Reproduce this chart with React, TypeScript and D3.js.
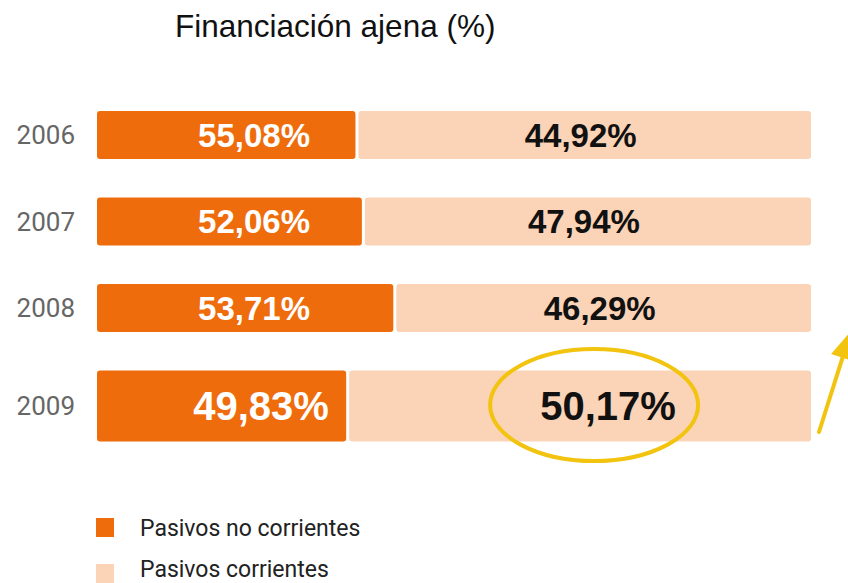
import React from "react";
import * as d3 from "d3";

const years = ["2006", "2007", "2008", "2009"];
const noCorrientes = [55.08, 52.06, 53.71, 49.83];
const corrientes = [44.92, 47.94, 46.29, 50.17];
// split point of each bar as drawn in the picture (the original is not to scale)
const drawnSplit = [36.2, 37.1, 41.5, 34.9];
const highlighted = ["2009"];
const legendLabels = ["Pasivos no corrientes", "Pasivos corrientes"];
const title = "Financiación ajena (%)";

const W = 848;
const H = 583;
const ORANGE = "#ef6c0c";
const PEACH = "#fbd3b6";
const YELLOW = "#f2c30f";

const fmt = (v: number) => v.toFixed(2).replace(".", ",") + "%";

export default function App() {
  const x = d3.scaleLinear().domain([0, 100]).range([97, 811]);
  const y = d3.scaleBand<string>().domain(years).range([111, 418.5]).paddingInner(0.445).paddingOuter(0);
  const bw = y.bandwidth();
  const gap = 3;

  const rows = years.map((yr, i) => {
    const big = highlighted.includes(yr);
    const h = big ? bw * 1.48 : bw;
    const y0 = y(yr)!;
    const split = x(drawnSplit[i]);
    return { yr, i, big, h, y0, split };
  });

  const last = rows[rows.length - 1];
  const ellCx = (last.split + gap + x(100)) / 2 + 14;
  const ellCy = last.y0 + last.h / 2 - 1;

  // arrow
  const a0: [number, number] = [819, 432];
  const tip: [number, number] = [851, 331];
  const dx = tip[0] - a0[0];
  const dy = tip[1] - a0[1];
  const len = Math.hypot(dx, dy);
  const ux = dx / len;
  const uy = dy / len;
  const hl = 28;
  const hw = 12;
  const bx = tip[0] - ux * hl;
  const by = tip[1] - uy * hl;
  const head = [
    [tip[0], tip[1]],
    [bx - uy * hw, by + ux * hw],
    [bx + uy * hw, by - ux * hw],
  ]
    .map((p) => p.join(","))
    .join(" ");

  return (
    <svg
      width={W}
      height={H}
      viewBox={`0 0 ${W} ${H}`}
      style={{ position: "absolute", left: 0, top: 0, background: "#fff" }}
    >
      <rect width={W} height={H} fill="#fff" />
      <text
        x={175}
        y={37}
        fontFamily="'Liberation Sans', Arial, sans-serif"
        fontSize={31.5}
        fill="#111"
      >
        {title}
      </text>

      {rows.map((r) => (
        <g key={r.yr}>
          <text
            x={75}
            y={r.y0 + r.h / 2}
            dy="0.36em"
            textAnchor="end"
            fontFamily="Roboto, 'Open Sans', sans-serif"
            fontSize={26}
            fill="#666"
          >
            {r.yr}
          </text>
          <rect x={x(0)} y={r.y0} width={r.split - x(0)} height={r.h} rx={3} fill={ORANGE} />
          <rect
            x={r.split + gap}
            y={r.y0}
            width={x(100) - r.split - gap}
            height={r.h}
            rx={3}
            fill={PEACH}
          />
          <text
            x={x(22) + (r.big ? 7 : 0)}
            y={r.y0 + r.h / 2}
            dy="0.36em"
            textAnchor="middle"
            fontFamily="'Liberation Sans', Arial, sans-serif"
            fontWeight="bold"
            fontSize={r.big ? 40 : 33}
            fill="#fff"
          >
            {fmt(noCorrientes[r.i])}
          </text>
          <text
            x={(r.split + gap + x(100)) / 2 + (r.big ? 28 : -4)}
            y={r.y0 + r.h / 2}
            dy="0.36em"
            textAnchor="middle"
            fontFamily="'Liberation Sans', Arial, sans-serif"
            fontWeight="bold"
            fontSize={r.big ? 40 : 33}
            fill="#111"
          >
            {fmt(corrientes[r.i])}
          </text>
        </g>
      ))}

      <ellipse cx={ellCx} cy={ellCy} rx={104} ry={56} fill="none" stroke={YELLOW} strokeWidth={4} />
      <line
        x1={a0[0]}
        y1={a0[1]}
        x2={bx}
        y2={by}
        stroke={YELLOW}
        strokeWidth={4}
        strokeLinecap="round"
      />
      <polygon points={head} fill={YELLOW} />

      {legendLabels.map((lab, i) => (
        <g key={lab}>
          <rect x={96} y={518 + i * 46} width={18} height={19} fill={i === 0 ? ORANGE : PEACH} />
          <text
            x={140}
            y={536 + i * 41}
            fontFamily="Roboto, 'Open Sans', sans-serif"
            fontSize={23}
            fill="#222"
          >
            {lab}
          </text>
        </g>
      ))}
    </svg>
  );
}
